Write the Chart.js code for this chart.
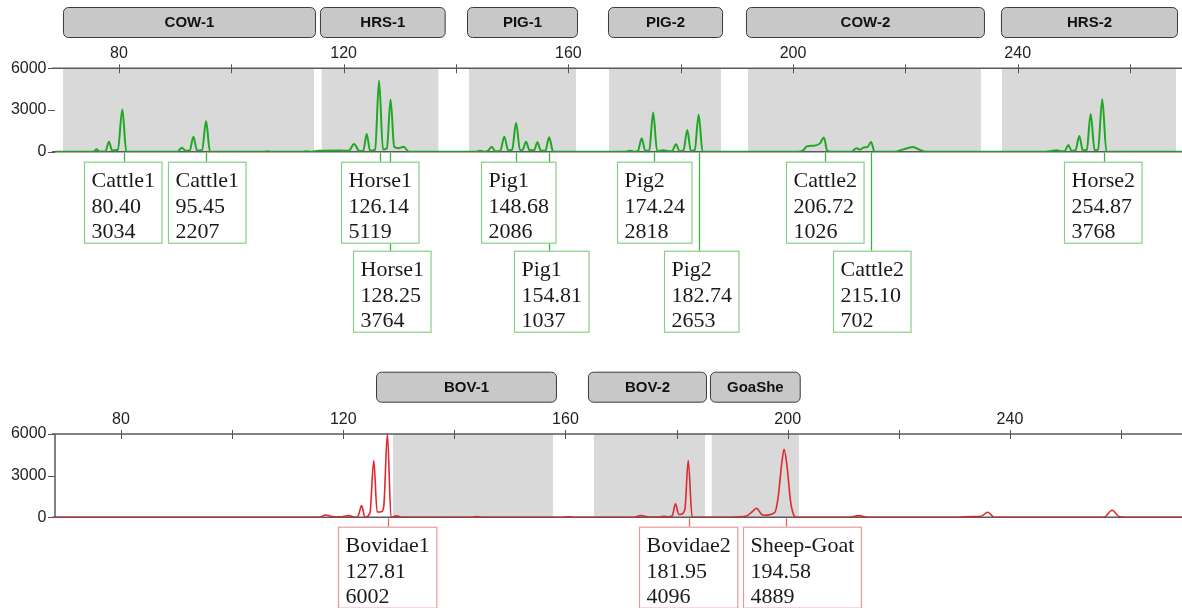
<!DOCTYPE html>
<html><head><meta charset="utf-8">
<script src="https://cdn.jsdelivr.net/npm/chart.js@4.4.1/dist/chart.umd.min.js"></script>
<style>
html,body{margin:0;padding:0;background:#fff;}
#wrap{position:relative;width:1182px;height:608px;overflow:hidden;background:#fff;}
canvas{position:absolute;left:0;}
</style></head><body>
<div id="wrap">
<canvas id="cTop" width="1182" height="350" style="top:0;width:1182px;height:350px"></canvas>
<canvas id="cBot" width="1182" height="258" style="top:350px;width:1182px;height:258px"></canvas>
</div>
<script>
// ---------------- DATA ----------------
// Upper electropherogram (green trace): size (bp-axis units) and RFU
const topTraceX = [68.6,74.9,75.6,76.0,76.5,77.6,78.2,78.8,79.8,80.6,81.3,
  90.4,91.2,91.9,92.6,93.25,93.9,94.8,95.5,96.2,105.7,106.4,107.1,112.6,113.4,114.2,
  115.5,119.3,120.9,121.85,122.8,123.5,124.1,124.7,125.6,126.3,127.0,127.7,128.35,129.0,129.8,130.7,131.6,
  143.6,144.3,145.0,145.7,146.35,147.0,147.9,148.6,149.3,150.0,150.7,151.4,151.9,152.45,153.1,153.9,154.5,155.1,155.9,156.58,157.3,
  170.2,170.97,171.8,172.4,173.06,173.7,174.4,175.1,175.8,176.85,177.9,178.5,179.16,179.8,180.5,181.18,181.8,182.5,183.2,183.9,
  200.8,201.8,202.5,203.7,204.8,205.5,206.1,206.8,210.4,211.3,211.9,212.6,213.3,213.9,214.5,
  218.0,219.5,220.6,221.3,222.3,223.8,
  244.0,245.8,246.94,247.7,248.4,249.0,249.6,250.3,250.97,251.6,252.3,252.99,253.7,254.3,255.05,255.8,269.25];
const topTraceY = [0,0,20,170,20,30,720,80,140,3034,0,
  0,290,60,90,1080,80,120,2207,0,0,40,0,0,40,0,
  60,90,60,550,50,80,1270,60,150,5119,150,250,3764,350,250,360,0,
  0,60,0,60,360,30,80,1080,80,150,2086,100,150,720,100,100,680,80,60,1037,0,
  0,60,0,60,960,60,80,2818,50,100,30,60,530,40,100,1560,60,120,2653,0,
  0,100,400,430,600,1026,50,0,0,250,150,300,350,702,0,
  0,150,280,340,180,0,
  0,40,100,40,60,480,60,120,1130,80,150,2710,80,150,3768,0,0];

// Lower electropherogram (red trace)
const botTraceX = [68.1,115.6,116.85,118.0,119.4,121.0,122.2,122.7,123.3,123.9,124.8,125.5,126.1,126.9,127.3,127.95,128.6,129.6,130.5,
  142.7,144.0,145.3,159.3,160.5,161.8,
  172.2,173.6,175.0,176.9,177.7,178.5,179.2,179.8,180.4,180.9,181.5,182.1,182.8,
  189.5,190.9,192.6,193.6,194.4,195.2,195.8,197.7,198.3,198.9,199.35,199.9,200.5,201.1,201.6,
  211.0,212.8,214.6,230.8,233.0,234.8,236.0,237.2,256.9,258.4,259.6,261.0,270.97];
const botTraceY = [0,0,170,60,40,120,0,100,840,0,300,4080,380,400,800,6002,0,100,0,
  0,50,0,0,40,0,
  0,120,20,20,80,30,100,970,200,240,600,4096,0,
  0,30,100,400,650,250,150,360,1500,3800,4889,3600,1200,150,0,
  0,120,0,0,60,80,360,0,0,510,60,0,0];

// Axis ticks (labelled every 40, minor every 20) and intensity ticks
const xTickStep = 20, xLabelEvery = 40;
const yTicks = [0, 1500, 3000, 4500, 6000];
const yLabelled = [0, 3000, 6000];

// Bins (marker ranges) – upper panel
const topBinNames = ['COW-1','HRS-1','PIG-1','PIG-2','COW-2','HRS-2'];
const topBinStart = [70.03,116.09,142.31,167.24,191.98,237.2];
const topBinEnd   = [114.72,136.85,161.36,187.18,233.46,268.18];
const topHeadStart = [70.03,115.78,141.96,167.06,191.62,237.02];
const topHeadEnd   = [115.07,138.16,161.72,187.54,234.17,268.54];
// Bins – lower panel
const botBinNames = ['BOV-1','BOV-2','GoaShe'];
const botBinStart = [128.96,165.13,186.32];
const botBinEnd   = [157.75,185.11,202.03];
const botHeadStart = [125.9,164.05,186.01];
const botHeadEnd   = [158.47,185.47,202.34];

// Peak call labels – upper panel
const topPeakNames = ['Cattle1','Cattle1','Horse1','Horse1','Pig1','Pig1','Pig2','Pig2','Cattle2','Cattle2','Horse2'];
const topPeakSizes = [80.40,95.45,126.14,128.25,148.68,154.81,174.24,182.74,206.72,215.10,254.87];
const topPeakHeights = [3034,2207,5119,3764,2086,1037,2818,2653,1026,702,3768];
const topPeakAt = [80.82,95.56,126.47,128.32,150.75,156.61,175.18,183.31,205.69,213.95,255.29];
// Peak call labels – lower panel
const botPeakNames = ['Bovidae1','Bovidae2','Sheep-Goat'];
const botPeakSizes = [127.81,181.95,194.58];
const botPeakHeights = [6002,4096,4889];
const botPeakAt = [128.11,182.23,199.64];

// ---------------- LAYOUT (styling only) ----------------
const topBoxRow = [0,0,0,1,0,1,0,1,0,1,0];
const topBoxOff = [-39.6,-38.4,-39,-37,-35,-35,-36.6,-35.7,-39,-38.5,-39.5];
const botBoxRow = [0,0,0];
const botBoxOff = [-50,-50,-43];

function zip(xs, ys){ return xs.map((x,i)=>({x:x, y:ys[i]})); }

const panelPlugin = {
  id: 'panel',
  beforeDatasetsDraw(chart, args, o) {
    const ctx = chart.ctx, a = chart.chartArea, x = chart.scales.x, y = chart.scales.y;
    ctx.save();
    ctx.fillStyle = '#d9d9d9';
    o.binStart.forEach((s, i) => {
      const x0 = x.getPixelForValue(s), x1 = x.getPixelForValue(o.binEnd[i]);
      ctx.fillRect(x0, a.top, x1 - x0, a.bottom - a.top);
    });
    ctx.strokeStyle = '#5a5a5a';
    ctx.lineWidth = 1.5;
    ctx.beginPath();
    ctx.moveTo(a.left - 3, a.top); ctx.lineTo(a.right, a.top);
    ctx.moveTo(a.left - 3, a.bottom); ctx.lineTo(a.right, a.bottom);
    if (o.yLine) { ctx.moveTo(a.left, a.top); ctx.lineTo(a.left, a.bottom); }
    ctx.stroke();
    ctx.lineWidth = 1;
    ctx.strokeStyle = '#555';
    ctx.beginPath();
    x.ticks.forEach(t => {
      const px = Math.round(x.getPixelForValue(t.value)) + 0.5;
      ctx.moveTo(px, a.top - 4); ctx.lineTo(px, a.top + 5);
    });
    y.ticks.forEach(t => {
      const py = Math.round(y.getPixelForValue(t.value)) + 0.5;
      if (yLabelled.includes(t.value)) { ctx.moveTo(a.left - 7, py); ctx.lineTo(a.left, py); }
      else { ctx.moveTo(a.left - 2, py); ctx.lineTo(a.left + 7, py); }
    });
    ctx.stroke();
    ctx.restore();
  },
  afterDraw(chart, args, o) {
    const ctx = chart.ctx, a = chart.chartArea, x = chart.scales.x;
    ctx.save();
    // bin header boxes
    o.headStart.forEach((s, i) => {
      const x0 = x.getPixelForValue(s), x1 = x.getPixelForValue(o.headEnd[i]);
      ctx.beginPath();
      ctx.roundRect(x0 + 0.5, o.headY + 0.5, x1 - x0 - 1, 30, 5);
      ctx.fillStyle = '#c8c8c8'; ctx.fill();
      ctx.strokeStyle = '#3a3a3a'; ctx.lineWidth = 1; ctx.stroke();
      ctx.fillStyle = '#111';
      ctx.font = 'bold 15px "Liberation Sans", Arial, sans-serif';
      ctx.textAlign = 'center'; ctx.textBaseline = 'middle';
      ctx.fillText(o.binNames[i], (x0 + x1) / 2, o.headY + 16);
    });
    // peak label connectors
    ctx.strokeStyle = o.lineColor; ctx.lineWidth = 1.3;
    o.peakAt.forEach((p, i) => {
      const cx = Math.round(x.getPixelForValue(p)) + 0.5;
      const top = o.rowY[o.rows[i]];
      ctx.beginPath(); ctx.moveTo(cx, a.bottom + 1); ctx.lineTo(cx, top); ctx.stroke();
    });
    // peak label boxes
    ctx.font = '22px "Liberation Serif", "Times New Roman", serif';
    ctx.textAlign = 'left'; ctx.textBaseline = 'middle';
    o.peakAt.forEach((p, i) => {
      const cx = x.getPixelForValue(p);
      const top = o.rowY[o.rows[i]];
      const lines = [o.names[i], o.sizes[i].toFixed(2), String(o.heights[i])];
      const w = Math.max(...lines.map(s => ctx.measureText(s).width)) + 14;
      const left = Math.round(cx + o.offs[i]) + 0.5;
      ctx.fillStyle = '#fff';
      ctx.fillRect(left, top + 0.5, w, 81);
      ctx.strokeStyle = o.boxColor; ctx.lineWidth = 1.2;
      ctx.strokeRect(left, top + 0.5, w, 81);
      ctx.fillStyle = '#1a1a1a';
      lines.forEach((s, k) => ctx.fillText(s, left + 7, top + 20 + k * 25.5));
    });
    ctx.restore();
  }
};

function makeChart(id, xs, ys, color, lw, xmin, xmax, pad, plug) {
  return new Chart(document.getElementById(id), {
    type: 'line',
    data: { datasets: [{ data: zip(xs, ys), borderColor: color, borderWidth: lw,
      pointRadius: 0, fill: false, cubicInterpolationMode: 'monotone', tension: 0.4 }] },
    options: {
      responsive: false, animation: false, devicePixelRatio: 1,
      layout: { padding: pad },
      plugins: { legend: { display: false }, tooltip: { enabled: false }, panel: plug },
      scales: {
        x: { type: 'linear', position: 'top', min: xmin, max: xmax,
          afterFit: s => { s.height = 30; },
          border: { display: false },
          grid: { display: true, drawOnChartArea: false, drawTicks: true, tickLength: 4, color: 'rgba(0,0,0,0)' },
          ticks: { stepSize: xTickStep, includeBounds: false, autoSkip: false, maxRotation: 0, padding: 1,
            color: '#222', font: { family: '"Liberation Sans", Arial, sans-serif', size: 16 },
            callback: v => (v % xLabelEvery === 0 ? String(v) : '') } },
        y: { type: 'linear', min: 0, max: 6000,
          afterFit: s => { s.width = 55; },
          afterBuildTicks: s => { s.ticks = yTicks.map(v => ({ value: v })); },
          border: { display: false },
          grid: { display: true, drawOnChartArea: false, drawTicks: true, tickLength: 7, color: 'rgba(0,0,0,0)' },
          ticks: { padding: 1.5, color: '#222', font: { family: '"Liberation Sans", Arial, sans-serif', size: 16 },
            callback: v => (yLabelled.includes(v) ? String(v) : '') } }
      }
    },
    plugins: [panelPlugin]
  });
}

makeChart('cTop', topTraceX, topTraceY, '#1fa824', 2, 68.61, 269.25,
  { top: 38.3, bottom: 198.3, left: 0, right: 0 },
  { binStart: topBinStart, binEnd: topBinEnd, headStart: topHeadStart, headEnd: topHeadEnd,
    binNames: topBinNames, headY: 7, yLine: false,
    names: topPeakNames, sizes: topPeakSizes, heights: topPeakHeights, peakAt: topPeakAt,
    rows: topBoxRow, offs: topBoxOff, rowY: [161.7, 250.7],
    lineColor: '#3cb43c', boxColor: '#86cf86' });

makeChart('cBot', botTraceX, botTraceY, '#e3262a', 1.6, 68.12, 270.97,
  { top: 54, bottom: 90.7, left: 0, right: 0 },
  { binStart: botBinStart, binEnd: botBinEnd, headStart: botHeadStart, headEnd: botHeadEnd,
    binNames: botBinNames, headY: 21.7, yLine: true,
    names: botPeakNames, sizes: botPeakSizes, heights: botPeakHeights, peakAt: botPeakAt,
    rows: botBoxRow, offs: botBoxOff, rowY: [176.7],
    lineColor: '#e06a6a', boxColor: '#e89a9a' });
</script>
</body></html>
